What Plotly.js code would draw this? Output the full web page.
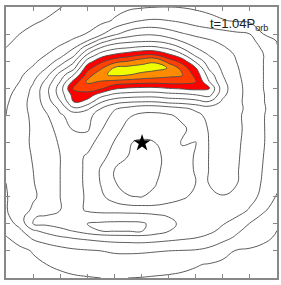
<!DOCTYPE html>
<html><head><meta charset="utf-8">
<script src="https://cdn.plot.ly/plotly-3.0.1.min.js"></script>
<style>html,body{margin:0;padding:0;background:#fff}#chart{width:281px;height:285px}</style>
</head><body><div id="chart"></div>
<script>
const xs = [0,0.5,1,1.5,2,2.5,3,3.5,4,4.5,5,5.5,6,6.5,7,7.5,8,8.5,9,9.5,10];
const ys = [0,0.5,1,1.5,1.75,2,2.25,2.5,3,3.5,4,4.5,5,5.5,6,6.25,6.5,6.75,7,7.25,7.5,7.75,8,8.25,8.5,8.75,9,9.5,10];
const density = [
 [0.4,0.5,0.6,0.72,0.82,0.9,0.95,1.0,1.02,1.0,0.97,0.92,0.88,0.85,0.83,0.82,0.8,0.8,0.8,0.8,0.8],
 [0.5,0.65,0.85,1.0,1.15,1.3,1.4,1.5,1.55,1.55,1.52,1.45,1.35,1.2,1.05,0.95,0.88,0.85,0.84,0.85,0.88],
 [0.65,0.8,1.05,1.35,1.6,1.8,1.9,2.0,2.1,2.12,2.1,2.05,2.0,1.95,1.9,1.7,1.2,0.95,0.9,0.88,0.87],
 [0.95,1.35,2.2,2.6,2.9,3.1,3.25,3.4,3.5,3.55,3.6,3.5,3.35,3.2,3.05,2.8,2.4,1.85,1.4,1.1,0.95],
 [1.2,1.8,2.9,3.3,3.7,4.1,4.6,5.05,5.15,5.15,5.1,4.6,4.05,3.7,3.45,3.2,2.8,2.2,1.65,1.25,1.0],
 [1.5,2.3,4.0,4.2,4.45,4.65,5.0,5.15,5.2,5.2,5.15,4.7,4.2,3.85,3.6,3.35,3.05,2.6,1.95,1.45,1.1],
 [1.8,2.5,3.95,4.15,4.3,4.45,4.45,4.5,4.55,4.55,4.5,4.3,4.0,3.75,3.55,3.45,3.3,3.0,2.4,1.75,1.3],
 [1.95,2.4,3.2,3.5,4.0,4.3,3.9,3.7,3.65,3.6,3.55,3.5,3.45,3.4,3.45,3.55,3.55,3.4,2.9,2.15,1.5],
 [1.95,2.35,2.85,3.4,4.0,4.3,3.9,3.2,2.55,2.05,1.98,2.15,2.6,2.9,3.15,3.75,3.95,3.8,3.3,2.75,1.9],
 [2.0,2.5,2.95,3.45,4.0,4.3,3.85,2.95,2.05,1.7,1.65,1.95,2.4,2.8,3.0,4.05,4.35,4.05,3.4,2.9,2.3],
 [2.05,2.6,3.0,3.5,4.0,4.3,3.85,2.9,2.0,1.75,1.6,1.8,2.3,2.75,3.05,4.05,4.4,4.1,3.5,2.95,2.4],
 [2.1,2.7,3.05,3.55,4.0,4.3,3.9,3.3,2.65,2.0,1.7,1.75,2.3,2.75,3.05,4.05,4.45,4.15,3.55,3.0,2.45],
 [2.15,2.75,3.1,3.6,4.1,4.5,4.4,3.6,2.95,2.05,1.9,2.0,2.45,3.07,2.98,4.05,4.5,4.2,3.6,3.05,2.5],
 [2.1,2.7,3.1,3.7,4.3,5.1,5.15,4.1,3.3,2.75,2.35,2.4,2.6,2.85,3.3,4.1,4.55,4.3,3.6,3.05,2.5],
 [2.0,2.6,3.2,3.9,4.9,5.3,5.2,4.7,3.7,3.1,2.85,2.8,2.9,3.2,3.7,4.3,4.5,4.25,3.6,3.05,2.5],
 [1.95,2.6,3.3,4.2,5.2,6.8,6.2,5.0,4.1,3.7,3.3,3.3,3.5,3.8,4.2,4.5,4.6,4.3,3.7,3.1,2.5],
 [1.85,2.55,3.35,4.5,5.9,8.0,7.6,6.1,5.4,5.1,5.0,5.0,5.3,5.4,5.6,5.9,4.8,4.3,3.6,3.05,2.45],
 [1.75,2.4,3.3,4.7,6.4,8.4,8.6,7.4,6.7,6.5,6.4,6.4,6.6,6.7,6.95,7.3,5.2,4.35,3.6,3.05,2.4],
 [1.6,2.2,3.2,4.7,6.5,9.2,9.45,9.2,8.2,7.9,7.8,7.8,8.0,8.15,8.3,8.05,5.4,4.35,3.6,3.0,2.35],
 [1.5,2.0,2.9,4.3,6.0,8.3,10.2,9.95,9.75,9.6,9.45,9.4,9.45,9.4,9.1,7.0,5.2,4.3,3.55,3.0,2.3],
 [1.4,1.8,2.5,3.7,5.4,7.0,9.4,10.8,11.2,11.05,10.8,10.55,10.3,10.1,8.65,6.5,5.0,4.2,3.5,3.0,2.25],
 [1.3,1.6,2.1,3.0,4.4,5.7,8.6,9.8,11.1,11.35,11.4,11.3,10.95,9.6,8.05,5.8,4.8,4.1,3.5,3.0,2.2],
 [1.2,1.45,1.8,2.4,3.4,4.8,7.4,8.75,9.6,10.0,10.6,10.9,9.55,8.6,6.8,5.4,4.6,4.0,3.45,3.0,2.15],
 [1.1,1.3,1.6,2.0,2.6,3.7,6.0,7.4,8.05,8.45,8.85,8.85,8.1,7.1,5.7,4.9,4.4,3.9,3.4,3.0,2.1],
 [1.0,1.2,1.45,1.75,2.1,2.9,4.6,6.0,6.7,6.95,7.2,7.2,6.75,5.9,5.0,4.5,4.1,3.7,3.3,2.9,2.05],
 [0.9,1.1,1.3,1.55,1.8,2.1,3.0,4.5,5.4,5.7,5.85,5.85,5.5,4.9,4.4,4.1,3.8,3.5,3.2,2.7,1.95],
 [0.8,1.0,1.2,1.4,1.6,1.8,2.05,2.8,3.8,4.5,4.85,4.85,4.5,4.1,3.8,3.6,3.4,3.2,3.0,2.0,1.7],
 [0.6,0.75,0.9,1.05,1.2,1.35,1.5,1.7,2.1,2.6,3.0,3.1,3.0,2.8,2.5,2.25,2.05,1.9,1.8,1.7,1.6],
 [0.3,0.45,0.6,0.8,0.98,1.15,1.35,1.5,1.65,1.8,1.9,1.98,2.0,1.95,1.85,1.75,1.6,1.5,1.4,1.3,1.2]
];
const starX = [5.02];
const starY = [4.98];
const label = 't=1.04P<sub>orb</sub>';

const fillScale = [[0,'#ffffff'],[7/11,'#ffffff'],[8/11,'#ff0000'],[9/11,'#ff4000'],[10/11,'#ff8c00'],[1,'#f0ff00']];

const traces = [
  {type:'contour', x:xs, y:ys, z:density,
   contours:{start:1, end:11, size:1, coloring:'fill', showlines:true},
   line:{color:'#4a4a4a', width:0.9, smoothing:1.3},
   colorscale:fillScale, showscale:false, hoverinfo:'skip'},
  {type:'scatter', mode:'markers', x:starX, y:starY,
   marker:{symbol:'star', size:13, color:'#000'}, hoverinfo:'skip'}
];
const axis = {range:[0,10], dtick:1, ticks:'inside', ticklen:4, tickcolor:'#888', tickwidth:1,
  showticklabels:false, showgrid:false, zeroline:false, showline:true, linecolor:'#888', linewidth:2, mirror:'ticks'};
const layout = {
  width:281, height:285, margin:{l:6, r:4, t:7, b:7},
  paper_bgcolor:'#fff', plot_bgcolor:'#fff', showlegend:false,
  xaxis:Object.assign({}, axis), yaxis:Object.assign({}, axis),
  annotations:[{text:label, xref:'paper', yref:'paper', x:0.975, y:0.975, xanchor:'right', yanchor:'top',
    showarrow:false, font:{family:'Liberation Sans, Arial, sans-serif', size:13, color:'#222'}}]
};
Plotly.newPlot('chart', traces, layout, {staticPlot:true, displayModeBar:false});
</script></body></html>
